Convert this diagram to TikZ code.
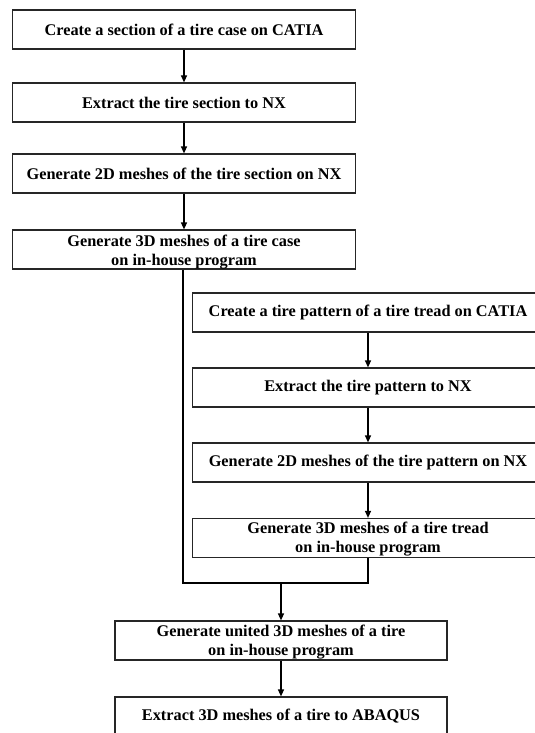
\documentclass[tikz,border=0pt]{standalone}
\usepackage{fontspec}
\setmainfont{Liberation Serif}
\usetikzlibrary{arrows.meta}
\begin{document}
\begin{tikzpicture}[x=1pt,y=-1pt,
  boxA/.style={draw=black!85, line width=1.2pt, minimum height=39pt, inner sep=0pt, minimum width=342.6pt},
  boxB/.style={boxA, minimum width=350.6pt},
  boxC/.style={boxA, minimum width=332pt},
  txt/.style={font=\fontsize{16.3}{19.8}\selectfont\bfseries, align=center, inner sep=0pt},
  arr/.style={line width=1.2pt, -{Triangle[length=7pt,width=6pt]}},
  ln/.style={line width=1.2pt}]
\useasboundingbox (0,0) rectangle (535,733);
\clip (0,0) rectangle (535,733);
\node[boxA] (b1) at (184,29.5) {};
\node[boxA] (b2) at (184,102.5) {};
\node[boxA] (b3) at (184,173.5) {};
\node[boxA] (b4) at (184,249.5) {};
\node[boxB] (b5) at (368,312.5) {};
\node[boxB] (b6) at (368,387.5) {};
\node[boxB] (b7) at (368,462.5) {};
\node[boxB] (b8) at (368,538) {};
\node[boxC] (b9) at (281,640.5) {};
\node[boxC] (b10) at (281,716.5) {};
\node[txt] (t1) at (b1.center) {Create a section of a tire case on CATIA};
\node[txt] (t2) at (b2.center) {Extract the tire section to NX};
\node[txt] (t3) at (b3.center) {Generate 2D meshes of the tire section on NX};
\node[txt] (t4) at ([yshift=-2.5pt]b4.center) {Generate 3D meshes of a tire case\\on in-house program};
\node[txt] (t5) at (b5.center) {Create a tire pattern of a tire tread on CATIA};
\node[txt] (t6) at (b6.center) {Extract the tire pattern to NX};
\node[txt] (t7) at (b7.center) {Generate 2D meshes of the tire pattern on NX};
\node[txt] (t8) at ([yshift=-1pt]b8.center) {Generate 3D meshes of a tire tread\\on in-house program};
\node[txt] (t9) at ([yshift=-1.5pt]b9.center) {Generate united 3D meshes of a tire\\on in-house program};
\node[txt] (t10) at (b10.center) {Extract 3D meshes of a tire to ABAQUS};
\draw[arr] (b1) -- (b2);
\draw[arr] (b2) -- (b3);
\draw[arr] (b3) -- (b4);
\draw[arr] (b5) -- (b6);
\draw[arr] (b6) -- (b7);
\draw[arr] (b7) -- (b8);
\coordinate (jl) at ([xshift=-1pt]b4.south |- 0,583);
\coordinate (jr) at (b8.south |- 0,583);
\coordinate (jm) at (b9.north |- 0,583);
\draw[ln] ([xshift=-1pt]b4.south) -- (jl) -- (jr) -- (b8.south);
\draw[arr] (jm) -- (b9);
\draw[arr] (b9) -- (b10);
\end{tikzpicture}
\end{document}
